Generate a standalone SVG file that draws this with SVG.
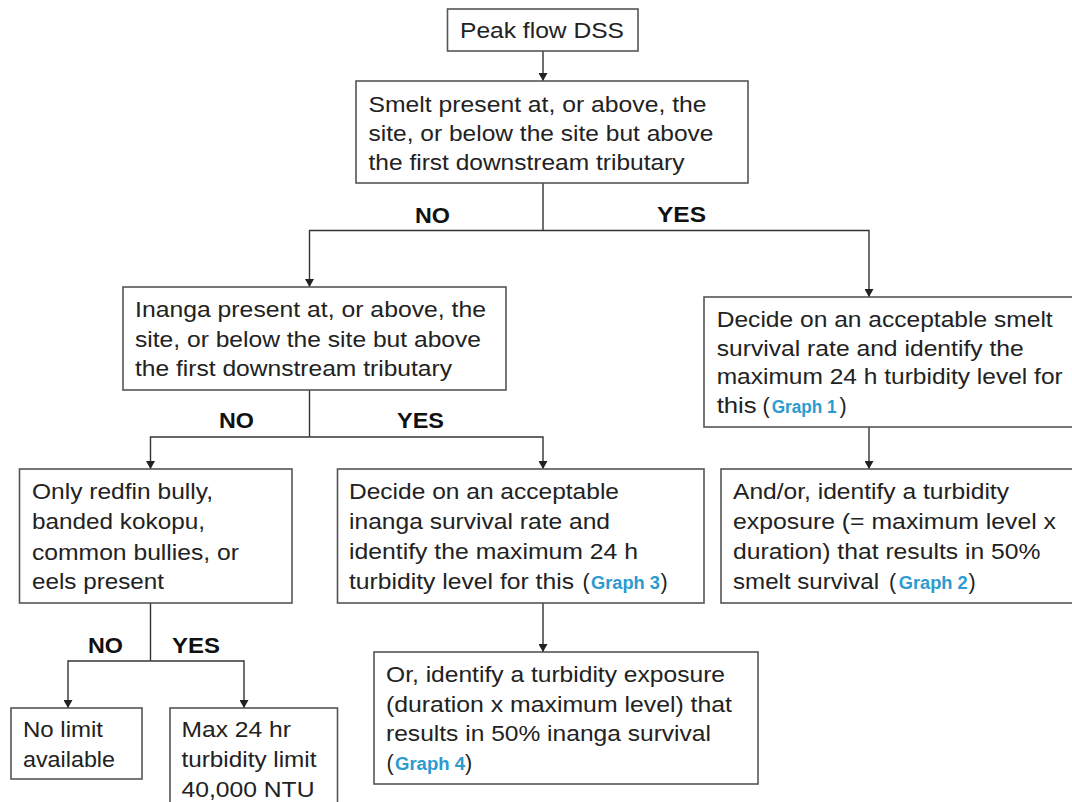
<svg xmlns="http://www.w3.org/2000/svg" width="1072" height="802" viewBox="0 0 1072 802">
<defs>
<marker id="arr" markerUnits="userSpaceOnUse" markerWidth="8" markerHeight="9" refX="8" refY="4.5" orient="auto">
<path d="M0,0 L8,4.5 L0,9 z" fill="#222"/>
</marker>
<style>
.box{fill:#fff;stroke:#555;stroke-width:1.6}
.t{font-family:"Liberation Sans",Arial,sans-serif;font-size:21.5px;fill:#222}
.lbl{font-family:"Liberation Sans",Arial,sans-serif;font-size:21.5px;font-weight:bold;fill:#111}
.g{font-family:"Liberation Sans",Arial,sans-serif;font-size:18px;font-weight:bold;fill:#2b9bd0}
.c{fill:none;stroke:#333;stroke-width:1.4}
</style>
</defs>
<rect width="1072" height="802" fill="#fff"/>

<g id="connectors">
<path class="c" d="M543,51 V81" marker-end="url(#arr)"/>
<path class="c" d="M543,183 V230.5"/>
<path class="c" d="M543,230.5 H309.5 V287" marker-end="url(#arr)"/>
<path class="c" d="M543,230.5 H869 V297" marker-end="url(#arr)"/>
<path class="c" d="M869,427 V469" marker-end="url(#arr)"/>
<path class="c" d="M309.5,390 V437"/>
<path class="c" d="M309.5,437 H150.5 V469" marker-end="url(#arr)"/>
<path class="c" d="M309.5,437 H543 V469" marker-end="url(#arr)"/>
<path class="c" d="M543,603 V652" marker-end="url(#arr)"/>
<path class="c" d="M150.5,603 V661"/>
<path class="c" d="M150.5,661 H68 V708" marker-end="url(#arr)"/>
<path class="c" d="M150.5,661 H244 V708" marker-end="url(#arr)"/>
<text class="lbl" x="415" y="223" textLength="35" lengthAdjust="spacingAndGlyphs">NO</text>
<text class="lbl" x="657" y="222" textLength="49" lengthAdjust="spacingAndGlyphs">YES</text>
<text class="lbl" x="219" y="428" textLength="35" lengthAdjust="spacingAndGlyphs">NO</text>
<text class="lbl" x="397" y="428" textLength="47" lengthAdjust="spacingAndGlyphs">YES</text>
<text class="lbl" x="88" y="653" textLength="35" lengthAdjust="spacingAndGlyphs">NO</text>
<text class="lbl" x="172" y="653" textLength="48" lengthAdjust="spacingAndGlyphs">YES</text>
</g>

<g id="peak">
<rect class="box" x="447.5" y="9" width="190.5" height="42"/>
<text class="t" x="460" y="38" textLength="164" lengthAdjust="spacingAndGlyphs">Peak flow DSS</text>
</g>

<g id="smelt">
<rect class="box" x="356" y="81" width="392" height="102"/>
<text class="t" x="368.5" y="112" textLength="338" lengthAdjust="spacingAndGlyphs">Smelt present at, or above, the</text>
<text class="t" x="368.5" y="141" textLength="345" lengthAdjust="spacingAndGlyphs">site, or below the site but above</text>
<text class="t" x="368.5" y="170" textLength="316" lengthAdjust="spacingAndGlyphs">the first downstream tributary</text>
</g>

<g id="inanga">
<rect class="box" x="123" y="287" width="383" height="103"/>
<text class="t" x="135" y="317" textLength="351" lengthAdjust="spacingAndGlyphs">Inanga present at, or above, the</text>
<text class="t" x="135" y="346.5" textLength="346" lengthAdjust="spacingAndGlyphs">site, or below the site but above</text>
<text class="t" x="135" y="375.5" textLength="317" lengthAdjust="spacingAndGlyphs">the first downstream tributary</text>
</g>

<g id="smeltDecide">
<rect class="box" x="704" y="297" width="380" height="130"/>
<text class="t" x="716.7" y="327" textLength="336" lengthAdjust="spacingAndGlyphs">Decide on an acceptable smelt</text>
<text class="t" x="716.7" y="355.5" textLength="307" lengthAdjust="spacingAndGlyphs">survival rate and identify the</text>
<text class="t" x="716.7" y="384" textLength="346" lengthAdjust="spacingAndGlyphs">maximum 24 h turbidity level for</text>
<text class="t" y="413"><tspan x="716.7" textLength="40" lengthAdjust="spacingAndGlyphs">this</tspan><tspan x="762.5">(</tspan><tspan class="g" x="771.7" textLength="65" lengthAdjust="spacingAndGlyphs">Graph 1</tspan><tspan x="839.5">)</tspan></text>
</g>

<g id="smeltExposure">
<rect class="box" x="721" y="469" width="360" height="134"/>
<text class="t" x="733" y="499" textLength="276" lengthAdjust="spacingAndGlyphs">And/or, identify a turbidity</text>
<text class="t" x="733" y="529" textLength="323" lengthAdjust="spacingAndGlyphs">exposure (= maximum level x</text>
<text class="t" x="733" y="559" textLength="307.5" lengthAdjust="spacingAndGlyphs">duration) that results in 50%</text>
<text class="t" y="589"><tspan x="733" textLength="146" lengthAdjust="spacingAndGlyphs">smelt survival</tspan><tspan x="889">(</tspan><tspan class="g" x="898.7" textLength="69" lengthAdjust="spacingAndGlyphs">Graph 2</tspan><tspan x="968.5">)</tspan></text>
</g>

<g id="redfin">
<rect class="box" x="19.5" y="469" width="272.5" height="134"/>
<text class="t" x="32" y="499" textLength="181" lengthAdjust="spacingAndGlyphs">Only redfin bully,</text>
<text class="t" x="32" y="529" textLength="173" lengthAdjust="spacingAndGlyphs">banded kokopu,</text>
<text class="t" x="32" y="559.5" textLength="207" lengthAdjust="spacingAndGlyphs">common bullies, or</text>
<text class="t" x="32" y="589" textLength="132" lengthAdjust="spacingAndGlyphs">eels present</text>
</g>

<g id="inangaDecide">
<rect class="box" x="337.5" y="469" width="366.5" height="134"/>
<text class="t" x="349" y="499" textLength="270" lengthAdjust="spacingAndGlyphs">Decide on an acceptable</text>
<text class="t" x="349" y="529" textLength="261" lengthAdjust="spacingAndGlyphs">inanga survival rate and</text>
<text class="t" x="349" y="559" textLength="289" lengthAdjust="spacingAndGlyphs">identify the maximum 24 h</text>
<text class="t" y="589"><tspan x="349" textLength="225" lengthAdjust="spacingAndGlyphs">turbidity level for this</tspan><tspan x="582.5">(</tspan><tspan class="g" x="591" textLength="69" lengthAdjust="spacingAndGlyphs">Graph 3</tspan><tspan x="660.5">)</tspan></text>
</g>

<g id="inangaExposure">
<rect class="box" x="374" y="652" width="384" height="132"/>
<text class="t" x="386" y="682" textLength="339" lengthAdjust="spacingAndGlyphs">Or, identify a turbidity exposure</text>
<text class="t" x="386" y="712" textLength="346" lengthAdjust="spacingAndGlyphs">(duration x maximum level) that</text>
<text class="t" x="386" y="741" textLength="325" lengthAdjust="spacingAndGlyphs">results in 50% inanga survival</text>
<text class="t" y="770"><tspan x="386.5">(</tspan><tspan class="g" x="395" textLength="70" lengthAdjust="spacingAndGlyphs">Graph 4</tspan><tspan x="465">)</tspan></text>
</g>

<g id="noLimit">
<rect class="box" x="11" y="708" width="131" height="71"/>
<text class="t" x="23" y="737" textLength="80" lengthAdjust="spacingAndGlyphs">No limit</text>
<text class="t" x="23" y="767" textLength="92" lengthAdjust="spacingAndGlyphs">available</text>
</g>

<g id="maxLimit">
<rect class="box" x="170" y="708" width="167.5" height="110"/>
<text class="t" x="181.5" y="737" textLength="109.5" lengthAdjust="spacingAndGlyphs">Max 24 hr</text>
<text class="t" x="181.5" y="767" textLength="135" lengthAdjust="spacingAndGlyphs">turbidity limit</text>
<text class="t" x="181.5" y="797" textLength="133" lengthAdjust="spacingAndGlyphs">40,000 NTU</text>
</g>
</svg>
